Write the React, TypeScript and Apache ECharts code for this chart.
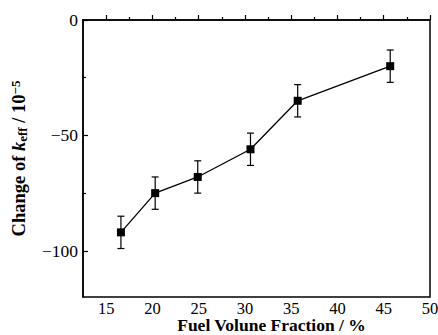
import React, { useEffect, useRef } from "react";
import * as echarts from "echarts";

const fuelFraction = [16.6, 20.3, 24.9, 30.6, 35.7, 45.7];
const keffChange = [-92, -75, -68, -56, -35, -20];
const errors = [7, 7, 7, 7, 7, 7];
const xMajorTicks = [15, 20, 25, 30, 35, 40, 45, 50];
const xMinorTicks = [17.5, 22.5, 27.5, 32.5, 37.5, 42.5, 47.5];
const yMajorTicks = [0, -50, -100];
const yMinorTicks = [-25, -75];

const FONT = "'Liberation Serif', 'Times New Roman', serif";
const fmt = (v: number) => String(v).replace("-", "\u2212");

export default function App() {
  const ref = useRef<HTMLDivElement>(null);
  useEffect(() => {
    const chart = echarts.init(ref.current!, null, { renderer: "svg" });
    const axisLine = { lineStyle: { color: "#000", width: 1.5 } };
    const xBase = { type: "value", min: 12.5, max: 50, gridIndex: 0, position: "bottom", splitLine: { show: false } };
    const yBase = { type: "value", min: -120, max: 0, gridIndex: 0, position: "left", splitLine: { show: false } };
    chart.setOption({
      animation: false,
      backgroundColor: "#fff",
      grid: {
        left: 83, right: 8, top: 20, bottom: 38,
        containLabel: false,
        outerBoundsMode: "none",
        show: true, borderColor: "#000", borderWidth: 1.5, backgroundColor: "transparent",
      },
      xAxis: [
        {
          ...xBase,
          axisLine,
          axisTick: { inside: true, length: 5, customValues: xMajorTicks, lineStyle: { color: "#000", width: 1.2 } },
          axisLabel: { customValues: xMajorTicks, color: "#000", fontFamily: FONT, fontSize: 16.5, lineHeight: 16, margin: 3, formatter: fmt },
          name: "Fuel Volune Fraction / %",
          nameLocation: "middle",
          nameMoveOverlap: false,
          nameGap: 20,
          nameTextStyle: { color: "#000", fontFamily: FONT, fontSize: 17.5, lineHeight: 16, fontWeight: "bold", padding: [0, 0, 0, 30] },
        },
        {
          ...xBase,
          axisLine: { show: false },
          axisTick: { inside: true, length: 3, customValues: xMinorTicks, lineStyle: { color: "#000", width: 1.2 } },
          axisLabel: { show: false },
        },
      ],
      yAxis: [
        {
          ...yBase,
          axisLine,
          axisTick: { inside: true, length: 5, customValues: yMajorTicks, lineStyle: { color: "#000", width: 1.2 } },
          axisLabel: { customValues: yMajorTicks, color: "#000", fontFamily: FONT, fontSize: 17.5, margin: 5, formatter: fmt },
          name: "Change of {i|k}{sub|eff} / 10{sup|\u22125}",
          nameLocation: "middle",
          nameGap: 54,
          nameRotate: 90,
          nameTextStyle: {
            color: "#000", fontFamily: FONT, fontSize: 18.5, fontWeight: "bold",
            rich: {
              i: { fontFamily: FONT, fontSize: 18.5, fontWeight: "bold", fontStyle: "italic", color: "#000" },
              sub: { fontFamily: FONT, fontSize: 13, fontWeight: "bold", color: "#000", verticalAlign: "bottom", padding: [7, 0, 0, 0] },
              sup: { fontFamily: FONT, fontSize: 13, fontWeight: "bold", color: "#000", verticalAlign: "top", padding: [0, 0, 7, 0] },
            },
          },
        },
        {
          ...yBase,
          axisLine: { show: false },
          axisTick: { inside: true, length: 3, customValues: yMinorTicks, lineStyle: { color: "#000", width: 1.2 } },
          axisLabel: { show: false },
        },
      ],
      series: [
        {
          type: "custom",
          xAxisIndex: 0,
          yAxisIndex: 0,
          data: fuelFraction.map((x, i) => [x, keffChange[i] - errors[i], keffChange[i] + errors[i]]),
          renderItem: (params: any, api: any) => {
            const x = api.value(0);
            const lo = api.coord([x, api.value(1)]);
            const hi = api.coord([x, api.value(2)]);
            const hw = 3.5;
            const style = { stroke: "#000", lineWidth: 1.2, fill: "none" };
            return {
              type: "group",
              children: [
                { type: "line", shape: { x1: lo[0], y1: lo[1], x2: hi[0], y2: hi[1] }, style },
                { type: "line", shape: { x1: lo[0] - hw, y1: lo[1], x2: lo[0] + hw, y2: lo[1] }, style },
                { type: "line", shape: { x1: hi[0] - hw, y1: hi[1], x2: hi[0] + hw, y2: hi[1] }, style },
              ],
            };
          },
          z: 1,
        },
        {
          type: "line",
          xAxisIndex: 0,
          yAxisIndex: 0,
          data: fuelFraction.map((x, i) => [x, keffChange[i]]),
          symbol: "rect",
          symbolSize: 8,
          itemStyle: { color: "#000" },
          lineStyle: { color: "#000", width: 1.3 },
          z: 2,
        },
      ],
    });
    return () => chart.dispose();
  }, []);
  return <div ref={ref} style={{ width: 438, height: 335, position: "absolute", left: 0, top: 0 }} />;
}
